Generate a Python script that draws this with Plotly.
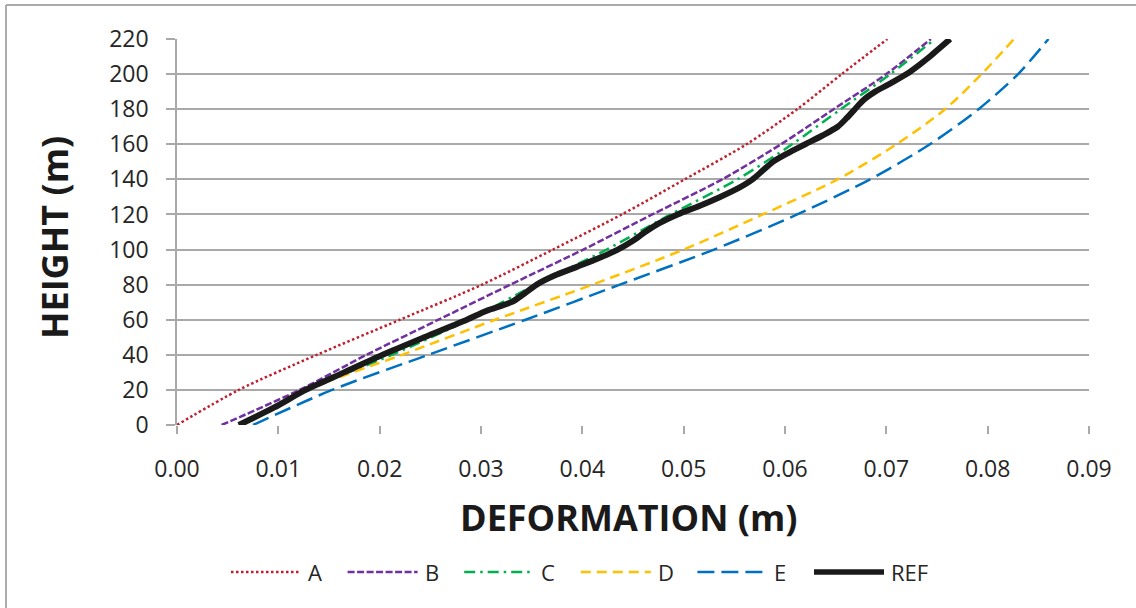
import plotly.graph_objects as go

# Height levels (m) shared by the model series
heights = [0, 20, 40, 60, 80, 100, 120, 140, 160, 180, 200, 220]

# Lateral deformation (m) of each model at the levels above
a_vals = [0.0000, 0.0061, 0.0138, 0.0220, 0.0301, 0.0371, 0.0439, 0.0501, 0.0562, 0.0612, 0.0656, 0.0701]
b_vals = [0.0044, 0.0121, 0.0187, 0.0258, 0.0329, 0.0401, 0.0469, 0.0538, 0.0596, 0.0648, 0.0700, 0.0744]
c_vals = [0.0061, 0.0128, 0.0212, 0.0288, 0.0354, 0.0424, 0.0487, 0.0553, 0.0607, 0.0655, 0.0704, 0.0748]
d_vals = [0.0061, 0.0128, 0.0222, 0.0314, 0.0410, 0.0500, 0.0578, 0.0652, 0.0710, 0.0758, 0.0794, 0.0826]
e_vals = [0.0075, 0.0153, 0.0248, 0.0344, 0.0437, 0.0530, 0.0612, 0.0684, 0.0743, 0.0791, 0.0830, 0.0860]

# Reference profile, sampled more densely
ref_heights = [0, 10, 20, 30, 40, 50, 60, 65, 70, 75, 80, 85, 90, 95, 100, 105, 110, 115,
               120, 125, 130, 135, 140, 145, 150, 155, 160, 165, 170, 175, 180, 185, 190,
               195, 200, 205, 210, 215, 220]
ref_vals = [0.0061, 0.0096, 0.0127, 0.0165, 0.0203, 0.0244, 0.0286, 0.0305, 0.0330, 0.0343,
            0.0355, 0.0372, 0.0394, 0.0416, 0.0435, 0.0450, 0.0462, 0.0476, 0.0494, 0.0516,
            0.0536, 0.0554, 0.0568, 0.0578, 0.0588, 0.0603, 0.0620, 0.0637, 0.0652, 0.0661,
            0.0669, 0.0677, 0.0689, 0.0705, 0.0720, 0.0732, 0.0743, 0.0753, 0.0763]

x_ticks = [0.00, 0.01, 0.02, 0.03, 0.04, 0.05, 0.06, 0.07, 0.08, 0.09]
y_ticks = list(range(0, 221, 20))

series = [
    dict(name="A", x=a_vals, y=heights, color="#C0202E", dash="2.5px,2.5px", width=2.5),
    dict(name="B", x=b_vals, y=heights, color="#7030A0", dash="7px,2.5px", width=2.5),
    dict(name="C", x=c_vals, y=heights, color="#00B050", dash="11px,5px,2.5px,5px", width=2.5),
    dict(name="D", x=d_vals, y=heights, color="#FFC000", dash="10px,6px", width=2.5),
    dict(name="E", x=e_vals, y=heights, color="#0070C0", dash="17px,7px", width=2.5),
    dict(name="REF", x=ref_vals, y=ref_heights, color="#1A1A1A", dash="solid", width=6),
]

W, H = 1136, 608
L, R, T, B = 177, 47, 39, 183
PW, PH = W - L - R, H - T - B


def px_x(px):
    return (px - L) / PW


def px_y(py):
    return (H - B - py) / PH


FONT = "Open Sans"
GRID = "#A9A9A9"

fig = go.Figure()
for s in series:
    fig.add_trace(go.Scatter(
        x=s["x"], y=s["y"], mode="lines", name=s["name"],
        line=dict(color=s["color"], dash=s["dash"], width=s["width"],
                  shape="spline", smoothing=0.8),
        showlegend=False,
    ))

# Legend row drawn below the axis title
shapes = []
annotations = []
leg_y = px_y(572)
for i, s in enumerate(series):
    x0 = 231 + i * 116.6
    shapes.append(dict(type="line", xref="paper", yref="paper",
                       x0=px_x(x0), x1=px_x(x0 + 70), y0=leg_y, y1=leg_y,
                       line=dict(color=s["color"], dash=s["dash"],
                                 width=s["width"] if s["name"] != "REF" else 5.5)))
    annotations.append(dict(xref="paper", yref="paper", x=px_x(x0 + 75), y=leg_y,
                            text=s["name"], showarrow=False, xanchor="left",
                            yanchor="middle", font=dict(family=FONT, size=22, color="#262626")))

# Chart frame
shapes.append(dict(type="line", xref="paper", yref="paper", layer="below",
                   x0=px_x(6), x1=px_x(6), y0=px_y(5), y1=px_y(640),
                   line=dict(color="#ABABAB", width=2)))
shapes.append(dict(type="line", xref="paper", yref="paper", layer="below",
                   x0=px_x(6), x1=px_x(1200), y0=px_y(5), y1=px_y(5),
                   line=dict(color="#ABABAB", width=2)))

annotations.append(dict(xref="paper", yref="paper", x=px_x(629), y=px_y(517),
                        text="<b>DEFORMATION (m)</b>", showarrow=False,
                        xanchor="center", yanchor="middle",
                        font=dict(family=FONT, size=36, color="#1A1A1A")))
annotations.append(dict(xref="paper", yref="paper", x=px_x(54), y=px_y(238),
                        text="<b>HEIGHT (m)</b>", showarrow=False, textangle=-90,
                        xanchor="center", yanchor="middle",
                        font=dict(family=FONT, size=36, color="#1A1A1A")))

fig.update_layout(
    width=W, height=H,
    margin=dict(l=L, r=R, t=T, b=B),
    paper_bgcolor="white", plot_bgcolor="white",
    shapes=shapes, annotations=annotations,
    showlegend=False,
)
fig.update_xaxes(
    range=[0, 0.09], tickvals=x_ticks, ticktext=[f"{v:.2f}" for v in x_ticks],
    showgrid=False, zeroline=False, showline=False,
    ticks="outside", ticklen=8, tickcolor=GRID, tickwidth=1.6,
    ticklabelstandoff=15,
    tickfont=dict(family=FONT, size=23, color="#262626"),
)
fig.update_yaxes(
    range=[0, 220], tickvals=y_ticks,
    showgrid=True, gridcolor=GRID, gridwidth=1.6, zeroline=False,
    showline=True, linecolor=GRID, linewidth=1.6,
    ticks="outside", ticklen=9, tickcolor=GRID, tickwidth=1.6,
    ticklabelstandoff=13,
    tickfont=dict(family=FONT, size=23, color="#262626"),
)
fig.write_html("out.html")
